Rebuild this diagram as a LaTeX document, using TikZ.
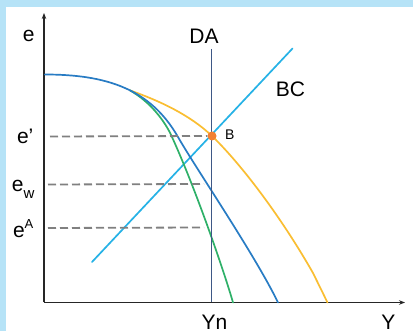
\documentclass[tikz,border=0pt]{standalone}
\usepackage{fontspec}
\setmainfont{Liberation Sans}
\usetikzlibrary{arrows.meta}
\definecolor{bgblue}{RGB}{182,227,247}
\definecolor{cblue}{RGB}{40,124,196}
\definecolor{cgreen}{RGB}{46,176,104}
\definecolor{cyellow}{RGB}{250,190,50}
\definecolor{cbc}{RGB}{38,178,230}
\definecolor{cda}{RGB}{62,88,134}
\definecolor{cdot}{RGB}{242,128,50}
\definecolor{cdash}{RGB}{128,128,128}
\tikzset{
  lbl/.style={inner sep=0pt, outer sep=0pt, text=black},
  big/.style={lbl, font=\fontsize{21}{21}\selectfont},
  axis/.style={line width=1.5pt, draw=black!85, -{Stealth[length=6pt,width=4.5pt]}},
  curve/.style={line width=1.7pt, line join=round, line cap=round},
  guide/.style={line width=1.8pt, draw=cdash, dash pattern=on 8pt off 4pt},
}
\begin{document}
\begin{tikzpicture}[x=1pt,y=-1pt]
\useasboundingbox (0,0) rectangle (413,331);
\fill[bgblue] (0,0) rectangle (413,331);
\fill[white] (6,7) rectangle (413,331);
% axes
\coordinate (O) at (44,302.5);
\coordinate (ytop) at (44,13);
\coordinate (xend) at (405,302.5);
\draw[axis] (O) -- (ytop);
\draw[axis] (O) -- (xend);
% BC line
\coordinate (bc1) at (92,262);
\coordinate (bc2) at (292.5,48.5);
\draw[curve, draw=cbc] (bc1) -- (bc2);
% branch point on the blue curve
\coordinate (S) at (130,90.4);
% yellow curve
\draw[curve, draw=cyellow] (S) .. controls (160,101) and (190,115) .. (212,136)
  .. controls (240,163) and (280,215) .. (313,273) -- (327.5,302.5);
% green curve
\draw[curve, draw=cgreen] (S) .. controls (150,101.7) and (165,121) .. (172,137)
  .. controls (197,192) and (225,274.5) .. (233,302.5);
% blue curve
\draw[curve, draw=cblue] (45,74.5) .. controls (105,74.5) and (150,88) .. (178,137)
  .. controls (196,168.5) and (255,255) .. (278,302.5);
% DA line
\coordinate (datop) at (211.5,49);
\coordinate (dabot) at (211.5,302.5);
\draw[line width=1.8pt, draw=cda] (datop) -- (dabot);
% point B
\node[circle, fill=cdot, minimum size=9pt, inner sep=0pt] (B) at (212,136) {};
% dashed guides
\coordinate (g1) at (50,136.5);
\coordinate (g2a) at (48,184.5);
\coordinate (g2b) at (204,184);
\coordinate (g3a) at (48,228);
\coordinate (g3b) at (204,227.5);
\draw[guide] (g1) -- (B.west);
\draw[guide] (g2a) -- (g2b);
\draw[guide] (g3a) -- (g3b);
% labels
\node[big, anchor=base west] (le) at (23,42) {e};
\node[big, anchor=base] (lda) at (204,44) {DA};
\node[big, anchor=base] (lbc) at (290.5,97) {BC};
\node[lbl, anchor=base west, font=\fontsize{14}{14}\selectfont] (lb) at (225,140) {B};
\node[big, anchor=base west] (lep) at (17,144) {e’};
\node[big, anchor=base west] (lew) at (12,192) {e\raisebox{-0.3em}{\fontsize{15}{15}\selectfont w}};
\node[big, anchor=base west] (lea) at (13,238) {e\raisebox{0.45em}{\fontsize{13}{13}\selectfont A}};
\node[big, anchor=base] (lyn) at (214.5,329.5) {Yn};
\node[big, anchor=base] (ly) at (388.5,329.5) {Y};
\end{tikzpicture}
\end{document}
